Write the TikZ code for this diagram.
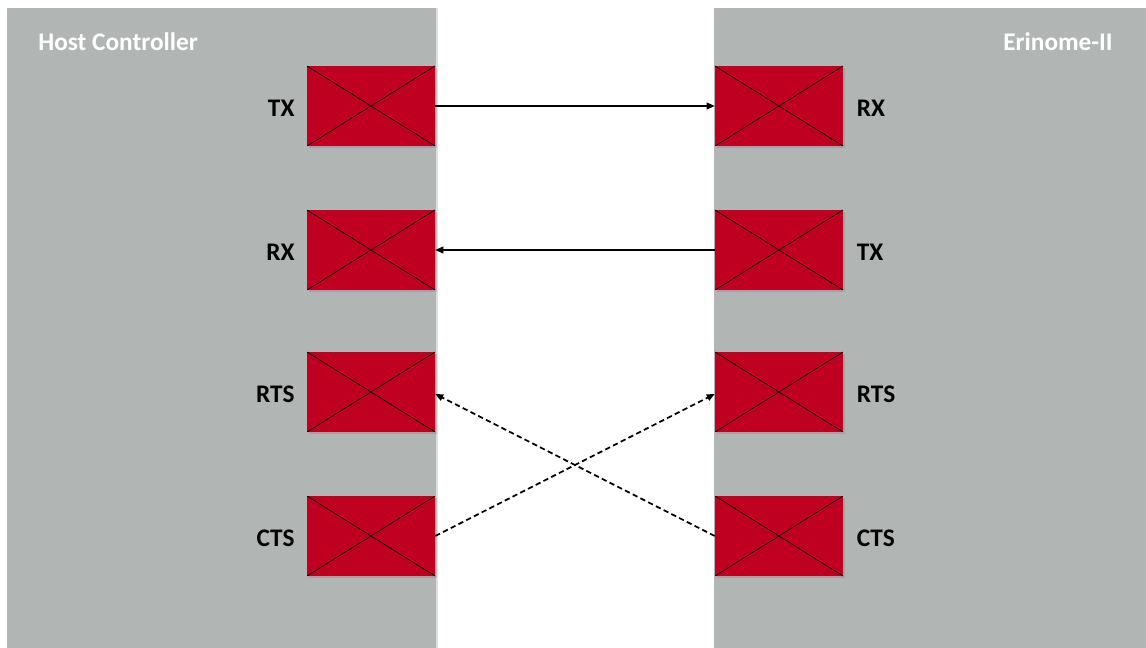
\documentclass[tikz,border=0pt]{standalone}
\usepackage{fontspec}
\setmainfont{Carlito}
\usetikzlibrary{arrows.meta,positioning,shadows}
\definecolor{Panel}{RGB}{177,182,180}
\definecolor{Pin}{RGB}{192,0,32}

\begin{document}
\begin{tikzpicture}[
  x=0.75pt,y=-0.75pt,
  panel/.style = {fill=Panel,draw=none,drop shadow={shadow xshift=1.5pt,shadow yshift=0pt,opacity=.25}},
  pin/.style = {fill=Pin,minimum width=96pt,minimum height=60pt,inner sep=0pt,
    drop shadow={shadow xshift=1.2pt,shadow yshift=-1.5pt,opacity=.35},
    path picture={\draw[black,line width=.5pt]
      (path picture bounding box.north west) -- (path picture bounding box.south east)
      (path picture bounding box.south west) -- (path picture bounding box.north east);}},
  pinlabel/.style = {font=\fontsize{19}{21}\selectfont\bfseries,inner sep=0pt},
  title/.style = {pinlabel,text=white},
  wire/.style = {line width=1.1pt,-{Triangle[length=6pt,width=5pt]}},
  handshake/.style = {wire,line width=1.3pt,dash pattern=on 4pt off 2.5pt}
  ]
  \useasboundingbox (0,0) rectangle (1146,648);
  \path[panel] (7,8) rectangle (436,648);
  \path[panel] (714,8) rectangle (1146,648);
  \node[title,anchor=west] (host) at (38,42) {Host Controller};
  \node[title,anchor=east] (erinome) at (1113,42) {Erinome-II};
  %
  \foreach \y/\hl/\el in {106/TX/RX,250/RX/TX,392/RTS/RTS,536/CTS/CTS} {
    \node[pin] (h\hl) at (371,\y) {};
    \node[pinlabel,left=9pt of h\hl,yshift=-1.8pt] (h\hl l) {\hl};
    \node[pin] (e\el) at (779,\y) {};
    \node[pinlabel,right=10pt of e\el,yshift=-1.8pt] (e\el l) {\el};
  }
  %
  \draw[wire] (hTX) -- (eRX);
  \draw[wire] (eTX) -- (hRX);
  \draw[handshake] (hCTS.east) -- ([yshift=-1.5pt]eRTS.west);
  \draw[handshake] (eCTS.west) -- ([yshift=-1.5pt]hRTS.east);
\end{tikzpicture}
\end{document}
